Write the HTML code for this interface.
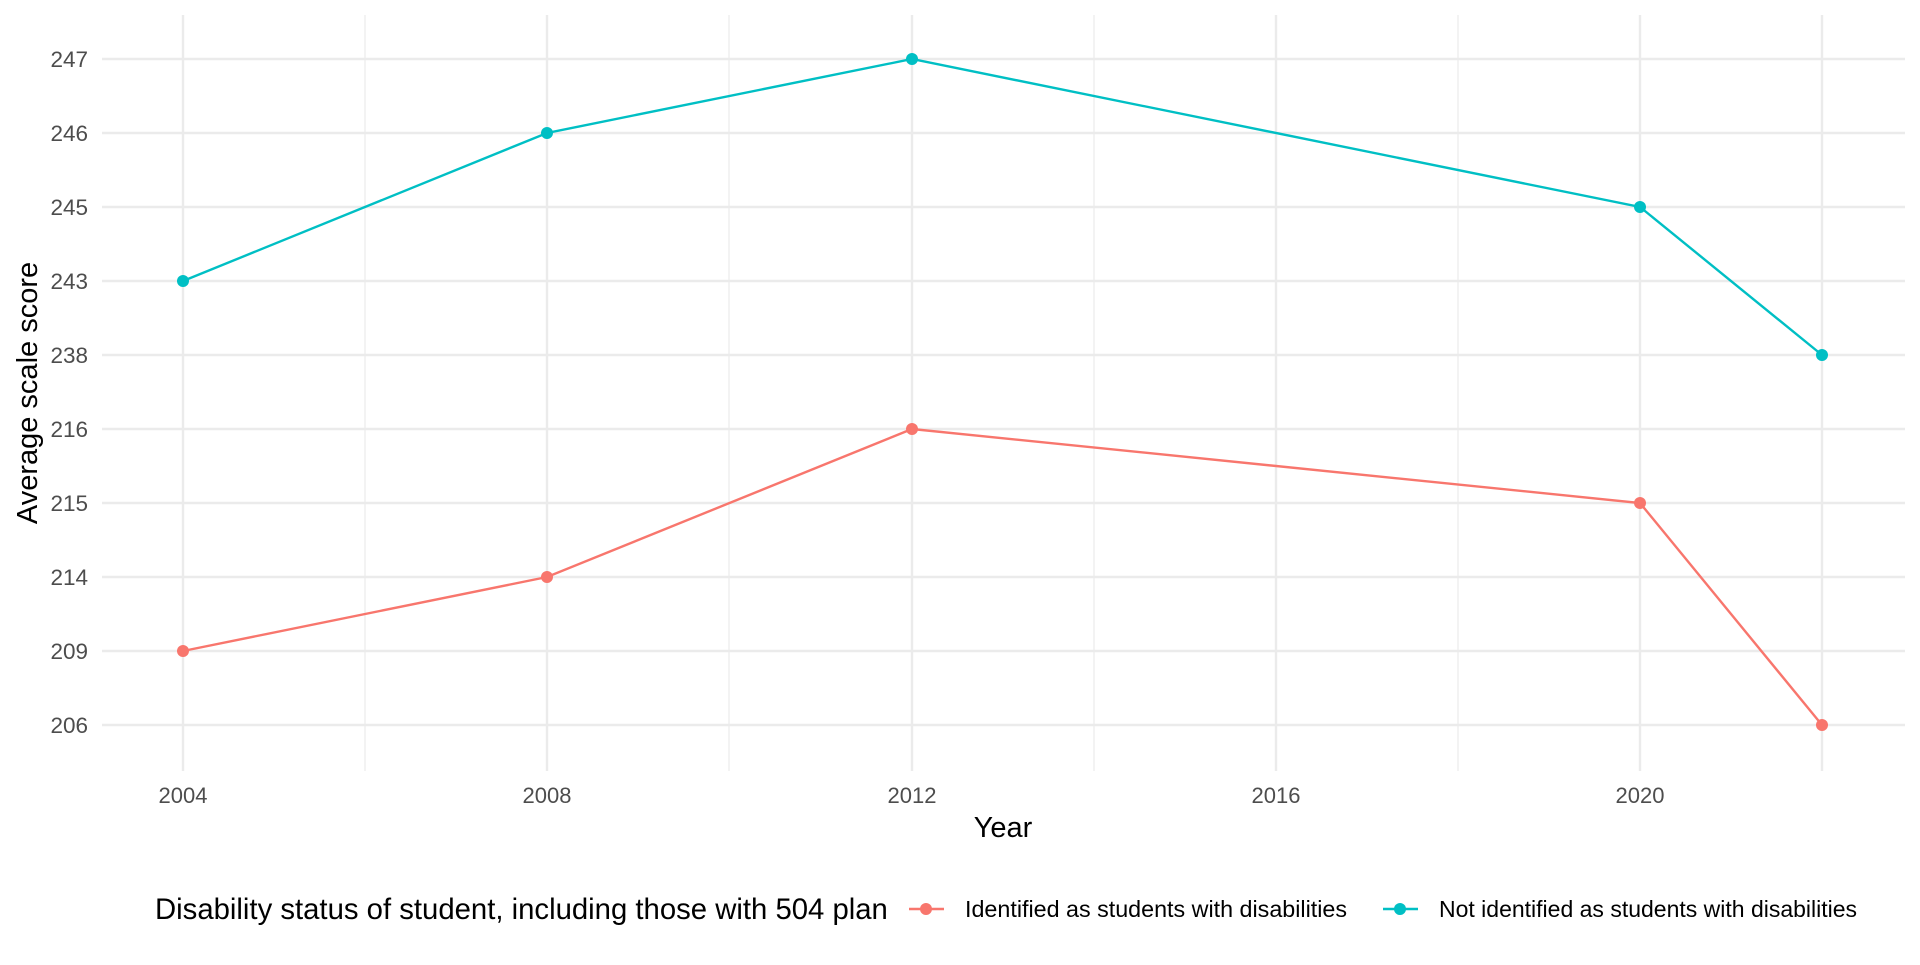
<!DOCTYPE html>
<html><head><meta charset="utf-8"><style>body{margin:0;background:#fff}</style></head><body>
<svg width="1920" height="960" xmlns="http://www.w3.org/2000/svg" font-family="Liberation Sans, Arial, sans-serif">
<rect width="1920" height="960" fill="#fff"/>
<g stroke="#ebebeb" stroke-width="1.2">
<line x1="365" y1="15" x2="365" y2="771"/><line x1="729" y1="15" x2="729" y2="771"/><line x1="1094" y1="15" x2="1094" y2="771"/><line x1="1458" y1="15" x2="1458" y2="771"/>
</g>
<g stroke="#ebebeb" stroke-width="2.4">
<line x1="102" x2="1905" y1="59" y2="59"/><line x1="102" x2="1905" y1="133" y2="133"/><line x1="102" x2="1905" y1="207" y2="207"/><line x1="102" x2="1905" y1="281" y2="281"/><line x1="102" x2="1905" y1="355" y2="355"/><line x1="102" x2="1905" y1="429" y2="429"/><line x1="102" x2="1905" y1="503" y2="503"/><line x1="102" x2="1905" y1="577" y2="577"/><line x1="102" x2="1905" y1="651" y2="651"/><line x1="102" x2="1905" y1="725" y2="725"/>
<line x1="183" y1="15" x2="183" y2="771"/><line x1="547" y1="15" x2="547" y2="771"/><line x1="912" y1="15" x2="912" y2="771"/><line x1="1276" y1="15" x2="1276" y2="771"/><line x1="1640" y1="15" x2="1640" y2="771"/><line x1="1822" y1="15" x2="1822" y2="771"/>
</g>
<g font-size="22.5" fill="#4d4d4d" text-anchor="end">
<text x="88" y="67">247</text><text x="88" y="141">246</text><text x="88" y="215">245</text><text x="88" y="289">243</text><text x="88" y="363">238</text><text x="88" y="437">216</text><text x="88" y="511">215</text><text x="88" y="585">214</text><text x="88" y="659">209</text><text x="88" y="733">206</text>
</g>
<g font-size="22" fill="#4d4d4d" text-anchor="middle">
<text x="183" y="803">2004</text><text x="547" y="803">2008</text><text x="912" y="803">2012</text><text x="1276" y="803">2016</text><text x="1640" y="803">2020</text>
</g>
<text x="1003" y="837" font-size="29" text-anchor="middle">Year</text>
<text transform="translate(37,393) rotate(-90)" font-size="29" text-anchor="middle">Average scale score</text>
<polyline fill="none" stroke="#00bfc4" stroke-width="2.4" points="183,281 547,133 912,59 1640,207 1822,355"/>
<polyline fill="none" stroke="#f8766d" stroke-width="2.4" points="183,651 547,577 912,429 1640,503 1822,725"/>
<g fill="#00bfc4"><circle cx="183" cy="281" r="6"/><circle cx="547" cy="133" r="6"/><circle cx="912" cy="59" r="6"/><circle cx="1640" cy="207" r="6"/><circle cx="1822" cy="355" r="6"/></g>
<g fill="#f8766d"><circle cx="183" cy="651" r="6"/><circle cx="547" cy="577" r="6"/><circle cx="912" cy="429" r="6"/><circle cx="1640" cy="503" r="6"/><circle cx="1822" cy="725" r="6"/></g>
<text x="155" y="919" font-size="29.3">Disability status of student, including those with 504 plan</text>
<line x1="909" x2="944" y1="909" y2="909" stroke="#f8766d" stroke-width="2.4"/><circle cx="926" cy="909" r="6" fill="#f8766d"/>
<text x="965" y="917" font-size="23.3">Identified as students with disabilities</text>
<line x1="1383" x2="1418" y1="909" y2="909" stroke="#00bfc4" stroke-width="2.4"/><circle cx="1400" cy="909" r="6" fill="#00bfc4"/>
<text x="1439" y="917" font-size="23">Not identified as students with disabilities</text>
</svg>
</body></html>
